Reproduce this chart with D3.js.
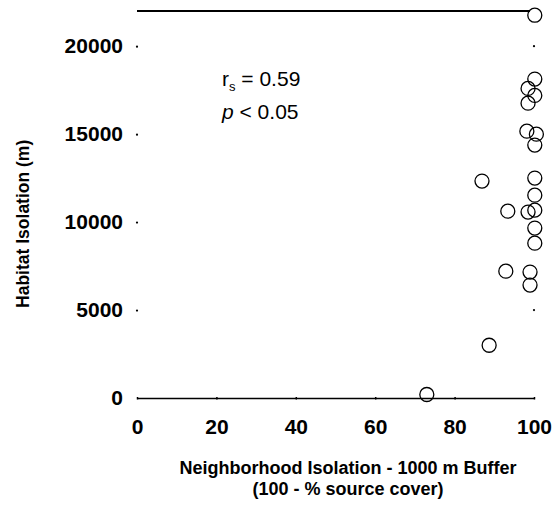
<!DOCTYPE html>
<html>
<head>
<meta charset="utf-8">
<script src="https://cdn.jsdelivr.net/npm/d3@7"></script>
<style>
  html, body { margin: 0; padding: 0; background: #fff; }
  svg { display: block; }
  text { font-family: "Liberation Sans", Arial, sans-serif; fill: #000; }
</style>
</head>
<body>
<svg id="chart" width="558" height="512"></svg>
<script>
// Data
const neighborhoodIsolation = [73, 88.7, 86.9, 93.4, 92.9,
  100.2, 100.2, 98.5, 100.2, 98.5, 98.2, 100.6, 100.2, 100.2, 100.2, 98.5, 100.2, 100.2, 100.2, 99, 99];
const habitatIsolation = [200, 3000, 12330, 10620, 7210,
  21760, 18130, 17600, 17200, 16760, 15170, 15000, 14380, 12500, 11530, 10570, 10680, 9660, 8800, 7160, 6420];
const xTicks = [0, 20, 40, 60, 80, 100];
const yTicks = [0, 5000, 10000, 15000, 20000];
const xTitleLines = ["Neighborhood Isolation - 1000 m Buffer", "(100 - % source cover)"];
const yTitle = "Habitat Isolation (m)";

const svg = d3.select("#chart");
const x = d3.scaleLinear().domain([0, 100]).range([137, 534]);
const y = d3.scaleLinear().domain([0, 22000]).range([398, 11]);

// bottom axis line with tiny ticks
const xAxis = d3.axisBottom(x).tickValues(xTicks).tickFormat(d3.format("d")).tickSize(0).tickPadding(21);
const gx = svg.append("g").attr("transform", `translate(0,${y(0)})`).call(xAxis);
gx.select(".domain").attr("stroke", "#000").attr("stroke-width", 1.6);
gx.selectAll(".tick text").attr("font-size", 21).attr("font-weight", "bold").attr("dy", "0.71em");
gx.selectAll(".tick").append("line").attr("y1", -1).attr("y2", 1.5).attr("stroke", "#000").attr("stroke-width", 1.5);

// top line
svg.append("line").attr("x1", x(0)).attr("x2", x(99)).attr("y1", y(22000)).attr("y2", y(22000))
  .attr("stroke", "#000").attr("stroke-width", 1.8);

// left axis (dots as ticks, no domain line)
const yAxis = d3.axisLeft(y).tickValues(yTicks).tickFormat(d3.format("d")).tickSize(0).tickPadding(14);
const gy = svg.append("g").attr("transform", `translate(${x(0)},0)`).call(yAxis);
gy.select(".domain").remove();
gy.selectAll(".tick text").attr("font-size", 21).attr("font-weight", "bold");
gy.selectAll(".tick").filter(d => d > 0).append("circle").attr("r", 1.1).attr("fill", "#000");

// right tick dots
svg.append("g").selectAll("circle").data(yTicks.filter(d => d === 20000 || d === 5000)).join("circle")
  .attr("cx", x(100)).attr("cy", d => y(d)).attr("r", 1.1).attr("fill", "#000");

// points
svg.append("g").selectAll("circle").data(neighborhoodIsolation).join("circle")
  .attr("cx", (d) => x(d)).attr("cy", (d, i) => y(habitatIsolation[i]))
  .attr("r", 7).attr("fill", "none").attr("stroke", "#000").attr("stroke-width", 1.3);

// axis titles
svg.append("g").selectAll("text").data(xTitleLines).join("text")
  .attr("x", 348).attr("y", (d, i) => 474 + i * 21).attr("text-anchor", "middle")
  .attr("font-size", 18).attr("font-weight", "bold").text(d => d);

svg.append("text").attr("transform", `translate(29,${y(9900)}) rotate(-90)`)
  .attr("text-anchor", "middle").attr("font-size", 17.5).attr("font-weight", "bold").text(yTitle);

// annotation
const ann = svg.append("text").attr("x", 222).attr("y", 86).attr("font-size", 21);
ann.append("tspan").text("r");
ann.append("tspan").attr("font-size", 13).attr("dy", 5).text("s");
ann.append("tspan").attr("dy", -5).text(" = 0.59");
const ann2 = svg.append("text").attr("x", 222).attr("y", 119).attr("font-size", 21);
ann2.append("tspan").attr("font-style", "italic").text("p");
ann2.append("tspan").text(" < 0.05");
</script>
</body>
</html>
